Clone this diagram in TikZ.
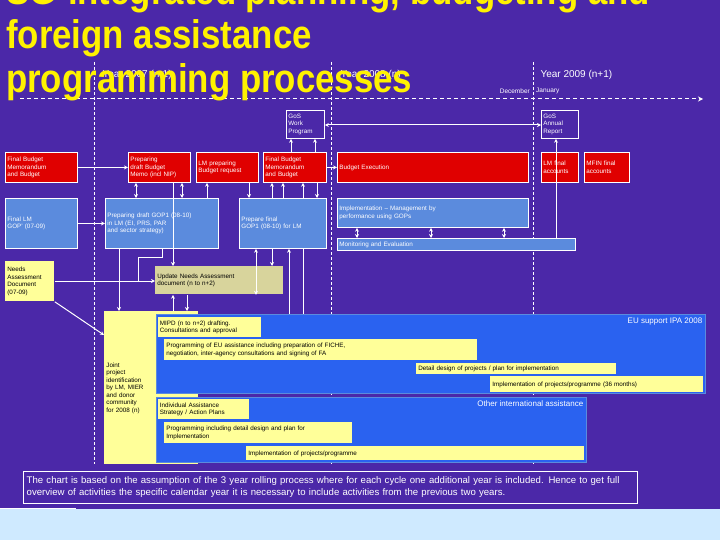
\documentclass[tikz,border=0pt]{standalone}
\usepackage{fontspec}
\setmainfont{Liberation Sans}
\usetikzlibrary{arrows.meta}
\definecolor{bgpurple}{HTML}{4B28A8}
\definecolor{boxred}{HTML}{E00000}
\definecolor{boxblue}{HTML}{5B8BDD}
\definecolor{bigblue}{HTML}{2A62F0}
\definecolor{boxyellow}{HTML}{FFFF99}
\definecolor{boxkhaki}{HTML}{D8D49C}
\definecolor{band}{HTML}{CFEAFF}
\tikzset{
  base/.style={draw=white, line width=0.8pt, inner sep=2pt, font=\fontsize{6.3}{7.5}\selectfont, align=left, anchor=north west},
  redbox/.style={base, fill=boxred, text=white},
  bluebox/.style={base, fill=boxblue, text=white},
  yelbox/.style={base, fill=boxyellow, draw=none, text=black},
  khakibox/.style={base, fill=boxkhaki, draw=none, text=black},
  gosbox/.style={base, draw=white, text=white},
  bigbox/.style={base, fill=bigblue, draw=boxblue},
  link/.style={draw=white, line width=1pt, -{Stealth[length=4pt,width=4pt]}},
  dlink/.style={link, {Stealth[length=4pt,width=4pt]}-{Stealth[length=4pt,width=4pt]}},
  yearline/.style={draw=white, dash pattern=on 3pt off 2pt, line width=0.5pt},
  title/.style={anchor=west, text=yellow, font=\fontsize{40}{40}\bfseries\selectfont, xscale=0.87, inner sep=0pt},
}
% box from corner (x1,y1) to corner (x2,y2)
\newcommand\bx[7]{\node[#6, minimum width={(#4-#2)*1pt}, minimum height={(#5-#3)*1pt},
  text width={(#4-#2)*1pt-4pt}] (#1) at (#2,#3) {#7};}
\begin{document}
\begin{tikzpicture}[x=1pt,y=-1pt]
\fill[bgpurple] (0,0) rectangle (720,540);
\useasboundingbox (0,0) rectangle (720,540);

% year separators
\foreach \x in {94,331,533} {
  \draw[yearline] (\x,62) -- (\x,464);
}
\node[anchor=west, text=white, font=\fontsize{10}{12}\selectfont] (y07) at (99,75) {Year 2007 (n-1)};
\node[anchor=west, text=white, font=\fontsize{10}{12}\selectfont] (y08) at (337,75) {Year 2008 (n)};
\node[anchor=west, text=white, font=\fontsize{10}{12}\selectfont] (y09) at (537,75) {Year 2009 (n+1)};
\node[anchor=east, text=white, font=\fontsize{6.5}{8}\selectfont, inner sep=1pt] (dec) at (531,91) {December};
\node[anchor=west, text=white, font=\fontsize{6.5}{8}\selectfont, inner sep=1pt] (jan) at (535,91) {January};
\coordinate (tl) at (20,99);
\coordinate (tr) at (703,99);
\draw[white, line width=1pt, dash pattern=on 4pt off 3pt, -{Stealth[length=5pt,width=5pt]}] (tl) -- (tr);

% title
\node[title] (t1) at (6,-6) {SG-integrated planning, budgeting and};
\node[title] (t2) at (6,38) {foreign assistance};
\node[title] (t3) at (6,82) {programming processes};

% GoS
\bx{gwp}{286}{110}{324}{138}{gosbox}{GoS\\Work\\Program}
\bx{gar}{541}{110}{578}{138}{gosbox}{GoS\\Annual\\Report}
\draw[dlink] (gwp.east |- 0,125) -- (gar.west |- 0,125);

% budget row
\bx{fbm}{5}{152}{77}{182}{redbox}{Final Budget\\Memorandum\\and Budget}
\bx{pbm}{128}{152}{190}{182}{redbox}{Preparing\\draft Budget\\Memo (incl NIP)}
\bx{lmb}{196}{152}{258}{182}{redbox}{LM preparing\\Budget request}
\bx{fbm2}{263}{152}{326}{182}{redbox}{Final Budget\\Memorandum\\and Budget}
\bx{bex}{337}{152}{528}{182}{redbox}{Budget Execution}
\bx{lmf}{541}{152}{578}{182}{redbox}{LM final\\accounts}
\bx{mff}{584}{152}{629}{182}{redbox}{MFIN final\\accounts}

% GOP row
\bx{flm}{5}{198}{77}{248}{bluebox}{Final LM\\GOP' (07-09)}
\bx{pgop}{105}{198}{218}{248}{bluebox}{Preparing draft GOP1 (08-10)\\in LM (EI, PRS, PAR\\and sector strategy)}
\bx{fgop}{239}{198}{326}{248}{bluebox}{Prepare final\\GOP1 (08-10) for LM}
\bx{impl}{337}{198}{528}{227}{bluebox}{Implementation -- Management by\\performance using GOPs}
\bx{mon}{337}{238}{575}{250}{bluebox}{Monitoring and Evaluation}

% needs
\bx{nad}{5}{261}{54}{301}{yelbox}{Needs\\Assessment\\Document\\(07-09)}
\bx{una}{155}{266}{283}{294}{khakibox}{Update Needs Assessment\\document (n to n+2)}
\bx{jpi}{104}{311}{198}{464}{yelbox}{Joint\\project\\identification\\by LM, MIER\\and donor\\community\\for 2008 (n)}

% EU support
\bx{eu}{156}{314}{705}{393}{bigbox}{}
\node[anchor=north east, text=white, font=\fontsize{8}{10}\selectfont] (eul) at (eu.north east) {EU support IPA 2008};
\bx{mipd}{157.5}{317}{261}{337}{yelbox}{MIPD (n to n+2) drafting.\\Consultations and approval}
\bx{peu}{164}{339}{477}{360}{yelbox}{Programming of EU assistance including preparation of FICHE,\\negotiation, inter-agency consultations and signing of FA}
\bx{ddp}{416}{363}{616}{374}{yelbox}{Detail design of projects / plan for implementation}
\bx{ipp}{490}{376}{703}{392}{yelbox}{Implementation of projects/programme (36 months)}

% other assistance
\bx{oia}{156}{397}{586}{462}{bigbox}{}
\node[anchor=north east, text=white, font=\fontsize{8}{10}\selectfont] (oial) at (oia.north east) {Other international assistance};
\bx{ias}{157.5}{399}{249}{419}{yelbox}{Individual Assistance\\Strategy / Action Plans}
\bx{pdd}{164}{422}{352}{443}{yelbox}{Programming including detail design and plan for\\Implementation}
\bx{iop}{246}{446}{584}{460}{yelbox}{Implementation of projects/programme}

% connectors
\draw[link] (fbm.east) -- (pbm.west |- fbm.east);
\draw[link] (flm.east) -- (pgop.west |- flm.east);
\draw[dlink] (136,0 |- pbm.south) -- (136,0 |- pgop.north);
\draw[dlink] (182,0 |- pbm.south) -- (182,0 |- pgop.north);
\draw[link] (173,0 |- pbm.south) -- (173,0 |- una.north);
\draw[link] (207,0 |- pgop.north) -- (207,0 |- lmb.south);
\draw[link] (249,0 |- lmb.south) -- (249,0 |- fgop.north);
\draw[link] (272,0 |- fgop.north) -- (272,0 |- fbm2.south);
\draw[link] (283,0 |- fgop.north) -- (283,0 |- fbm2.south);
\draw[link] (303,0 |- fgop.north) -- (303,0 |- fbm2.south);
\draw[link] (317,0 |- fbm2.south) -- (317,0 |- fgop.north);
\draw[link] (291,0 |- fbm2.north) -- (291,0 |- gwp.south);
\draw[link] (315,0 |- fbm2.north) -- (315,0 |- gwp.south);
\draw[link] (fbm2.east) -- (bex.west);
\foreach \x in {357,431,504} {
  \draw[dlink] (\x,0 |- impl.south) -- (\x,0 |- mon.north);
}
\draw[link] (556,0 |- mon.north) -- (556,0 |- gar.south);
\draw[link] (nad.east |- 0,281) -- (una.west |- 0,281);
\draw[white, line width=1pt] (162,0 |- pgop.south) -- (162,257) -- (138,257) -- (138,281);
\draw[link] (nad.south east) -- (jpi.west |- 0,335);
\draw[link] (119,0 |- pgop.south) -- (119,0 |- jpi.north);
\draw[link] (173,0 |- jpi.north) -- (173,0 |- una.south);
\draw[link] (187,0 |- una.south) -- (187,0 |- jpi.north);
\draw[dlink] (256,0 |- una.south) -- (256,0 |- fgop.south);
\draw[link] (272,0 |- fgop.south) -- (272,0 |- una.north);
\draw[link] (289,0 |- eu.north) -- (289,0 |- fgop.south);
\draw[white, line width=1pt] (303,0 |- fgop.south) -- (303,0 |- eu.north);

% note
\node[draw=white, line width=0.8pt, anchor=north west, minimum width=613pt, minimum height=32pt, text width=607pt, align=left, text=white, font=\fontsize{9.6}{12}\selectfont] (note) at (23,471) {The chart is based on the assumption of the 3 year rolling process where for each cycle one additional year is included. Hence to get full\\overview of activities the specific calendar year it is necessary to include activities from the previous two years.};
\fill[band] (0,509) rectangle (720,540);
\draw[white, line width=0.8pt] (0,508) -- (76,508);
\end{tikzpicture}
\end{document}
